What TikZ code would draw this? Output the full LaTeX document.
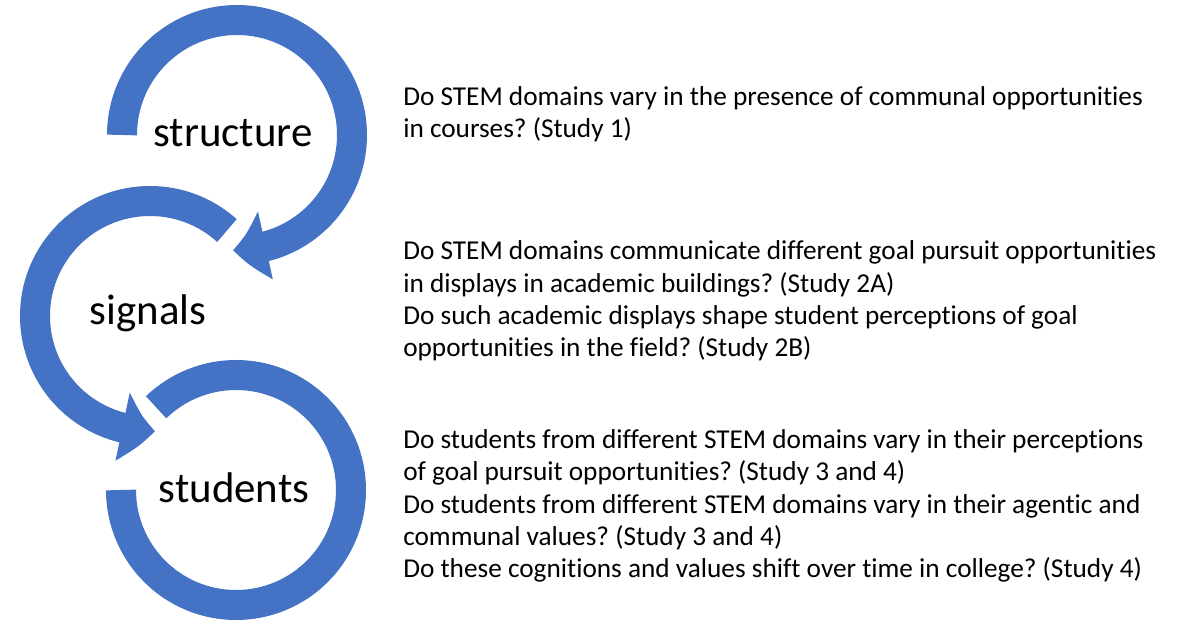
\documentclass[tikz,border=0pt]{standalone}
\usepackage{fontspec}
\setmainfont{Carlito}[Ligatures=NoCommon]
\usetikzlibrary{arrows.meta,bending}
\definecolor{loopblue}{HTML}{4472C4}
\tikzset{
  loop/.style={draw=loopblue, line width=7.5mm},
  looptip/.style={-{Triangle[length=8.25mm, width=16.75mm, bend]}},
  label/.style={font=\fontsize{30.5pt}{36pt}\selectfont, inner sep=0pt, anchor=base},
  question/.style={font=\fontsize{19.4pt}{23pt}\selectfont\frenchspacing, align=left, inner sep=0pt, anchor=base west}
}
\begin{document}
\begin{tikzpicture}[x=0.25mm, y=0.25mm]
\useasboundingbox[fill=white] (0,0) rectangle (1196,628);

% the three loops
\draw[loop, looptip] (122,493) arc[start angle=180, end angle=-92, radius=115];
\draw[loop, looptip] (150,312) ++(48:115) arc[start angle=48, end angle=272.5, radius=115];
\draw[loop] (121,138) arc[start angle=180, end angle=494, radius=115];

% labels in the loops
\node[label] (structure) at (233,481) {structure};
\node[label] (signals) at (148,303) {signals};
\node[label] (students) at (234,125) {students};

% questions (anchored at the baseline of their last line)
\node[question] (q1) at (403,490) {Do STEM domains vary in the presence of communal opportunities\\in courses? (Study 1)};
\node[question] (q2) at (403,271) {Do STEM domains communicate different goal pursuit opportunities\\in displays in academic buildings? (Study 2A)\\Do such academic displays shape student perceptions of goal\\opportunities in the field? (Study 2B)};
\node[question] (q3) at (403,50) {Do students from different STEM domains vary in their perceptions\\of goal pursuit opportunities? (Study 3 and 4)\\Do students from different STEM domains vary in their agentic and\\communal values? (Study 3 and 4)\\Do these cognitions and values shift over time in college? (Study 4)};
\end{tikzpicture}
\end{document}
